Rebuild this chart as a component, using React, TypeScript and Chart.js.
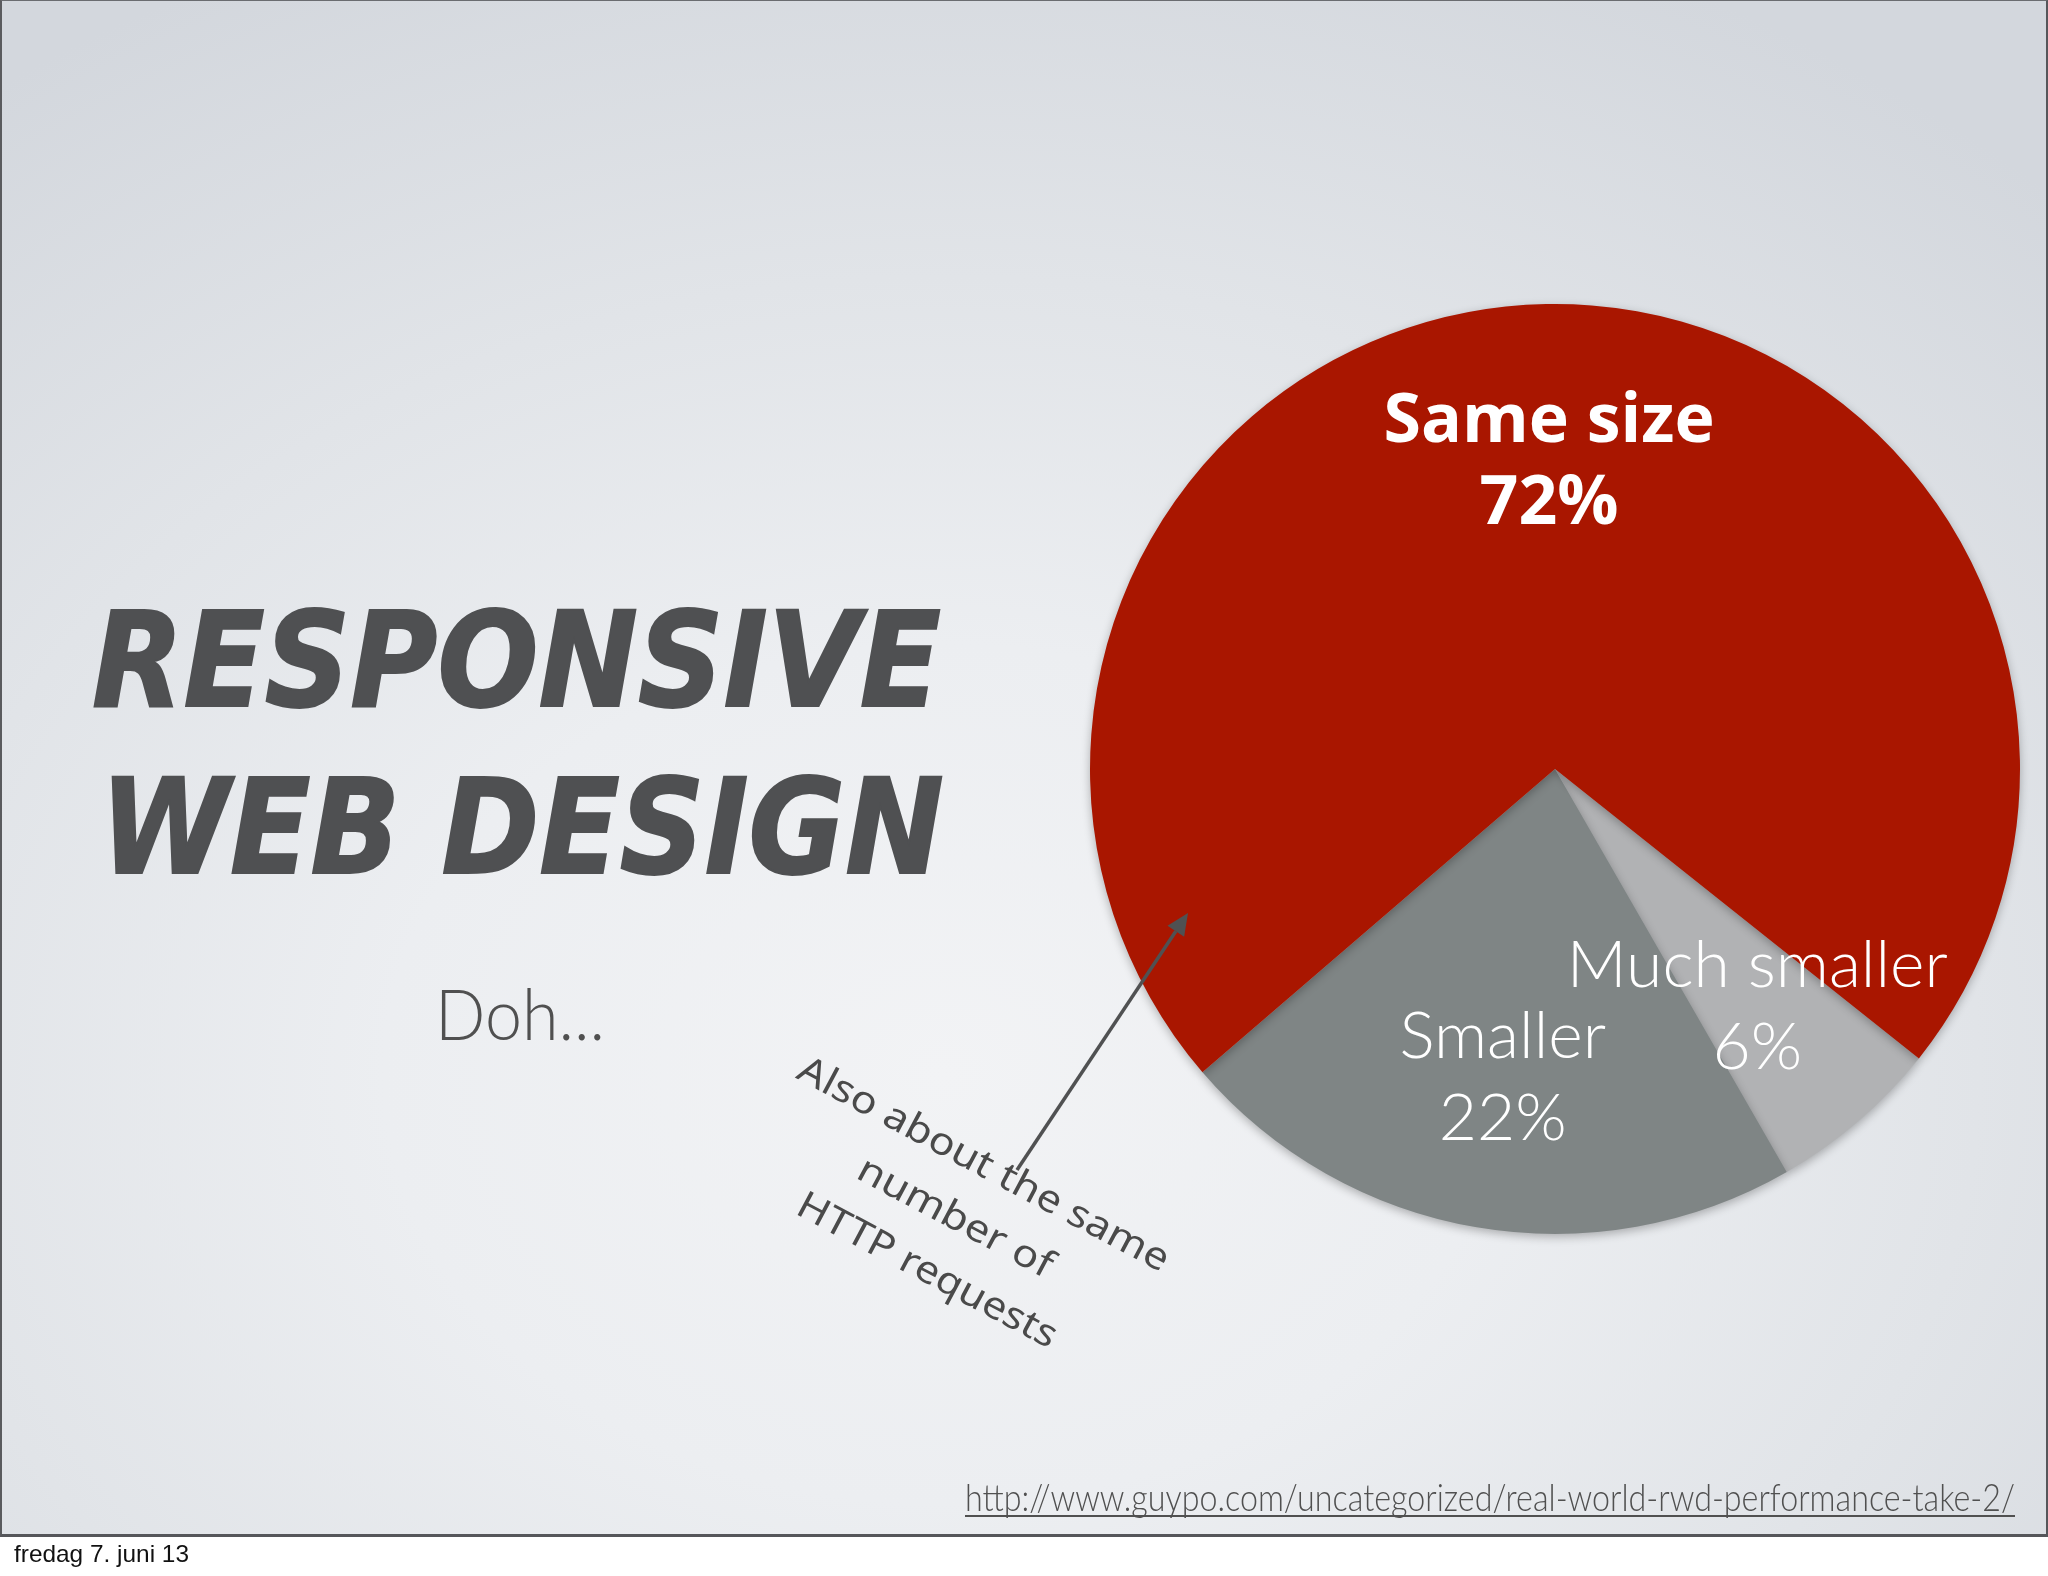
import React, { useEffect, useRef } from "react";
import { Chart, registerables } from "chart.js";

Chart.register(...registerables);

// ---- data ----
const categories = ["Much smaller", "Smaller", "Same size"];
const shares = [6, 22, 72];
const sliceColors = ["#b1b2b4", "#7f8585", "#a91600"];

const titleLines = ["RESPONSIVE", "WEB DESIGN"];
const subtitle = "Doh...";
const noteLines = ["Also about the same", "number of", "HTTP requests"];
const sourceUrl = "http://www.guypo.com/uncategorized/real-world-rwd-performance-take-2/";
const footerDate = "fredag 7. juni 13";

const labelPlugin = {
  id: "sliceLabels",
  beforeDatasetsDraw(chart: any) {
    const ctx = chart.ctx;
    ctx.save();
    ctx.shadowColor = "rgba(0,0,0,0.28)";
    ctx.shadowBlur = 10;
    ctx.shadowOffsetX = 0;
    ctx.shadowOffsetY = 3;
  },
  afterDatasetsDraw(chart: any) {
    const ctx = chart.ctx;
    ctx.restore();
    const meta = chart.getDatasetMeta(0);
    const values: number[] = chart.data.datasets[0].data;
    const maxIdx = values.indexOf(Math.max(...values));
    ctx.save();
    ctx.fillStyle = "#ffffff";
    ctx.textAlign = "center";
    ctx.textBaseline = "alphabetic";
    meta.data.forEach((arc: any, i: number) => {
      const p = arc.getProps(["x", "y", "startAngle", "endAngle", "outerRadius"], true);
      const mid = (p.startAngle + p.endAngle) / 2;
      const r = p.outerRadius * 0.667;
      const cx = p.x + Math.cos(mid) * r;
      const cy = p.y + Math.sin(mid) * r;
      if (i === maxIdx) {
        ctx.font = '700 68px "Open Sans"';
      } else {
        ctx.font = '300 66px Lato';
      }
      ctx.fillText(String(chart.data.labels[i]), cx, cy - 17);
      ctx.fillText(values[i] + "%", cx, cy + 65);
    });
    ctx.restore();
  },
};

function PieChart() {
  const ref = useRef<HTMLCanvasElement>(null);
  useEffect(() => {
    if (!ref.current) return;
    const chart = new Chart(ref.current, {
      type: "pie",
      data: {
        labels: categories,
        datasets: [
          {
            data: shares,
            backgroundColor: sliceColors,
            borderWidth: 0,
            hoverOffset: 0,
            offset: 0,
            clip: false,
          } as any,
        ],
      },
      options: {
        animation: false,
        responsive: false,
        devicePixelRatio: 1,
        rotation: 128.5,
        layout: { padding: 20 },
        events: [],
        plugins: {
          legend: { display: false },
          tooltip: { enabled: false },
        },
      },
      plugins: [labelPlugin],
    });
    return () => chart.destroy();
  }, []);
  return (
    <canvas
      ref={ref}
      width={970}
      height={970}
      style={{ position: "absolute", left: 1070, top: 284, width: 970, height: 970 }}
    />
  );
}

export default function App() {
  const ink = "#4f5052";
  const angle = 28;
  const rad = (angle * Math.PI) / 180;
  const n = { x: -Math.sin(rad), y: Math.cos(rad) };
  const noteStart = { x: 978, y: 1175 };
  const noteLens = [415, 216, 289];
  // arrow
  const ax1 = 1017, ay1 = 1170, ax2 = 1188, ay2 = 913;
  const aAng = Math.atan2(ay2 - ay1, ax2 - ax1);
  const headL = 22, headW = 10;
  const hx = ax2 - Math.cos(aAng) * headL;
  const hy = ay2 - Math.sin(aAng) * headL;
  const head = [
    [ax2, ay2],
    [hx + Math.sin(aAng) * headW, hy - Math.cos(aAng) * headW],
    [hx - Math.sin(aAng) * headW, hy + Math.cos(aAng) * headW],
  ]
    .map((q) => q.join(","))
    .join(" ");

  return (
    <div
      style={{
        position: "absolute",
        left: 0,
        top: 0,
        width: 2048,
        height: 1576,
        background: "#ffffff",
        overflow: "hidden",
      }}
    >
      <div
        style={{
          position: "absolute",
          left: 0,
          top: 0,
          width: 2048,
          height: 1537,
          boxSizing: "border-box",
          borderTop: "1px solid #6a6c70",
          borderLeft: "2px solid #5a5b5e",
          borderRight: "2px solid #55565a",
          borderBottom: "3px solid #55565a",
          background:
            "radial-gradient(ellipse 78% 80% at 46% 70%, #f2f3f5 0%, #eceef1 35%, #e1e4e8 65%, #d3d7dd 100%)",
        }}
      />
      <PieChart />
      <svg
        width={2048}
        height={1576}
        style={{ position: "absolute", left: 0, top: 0 }}
      >
        <text
          x={92}
          y={706}
          textLength={849}
          lengthAdjust="spacingAndGlyphs"
          fontFamily="DejaVu Sans"
          fontWeight="bold"
          fontStyle="italic"
          fontSize={132}
          fill={ink}
          stroke={ink}
          strokeWidth={2}
        >
          {titleLines[0]}
        </text>
        <text
          x={100}
          y={873}
          textLength={844}
          lengthAdjust="spacingAndGlyphs"
          fontFamily="DejaVu Sans"
          fontWeight="bold"
          fontStyle="italic"
          fontSize={132}
          fill={ink}
          stroke={ink}
          strokeWidth={2}
        >
          {titleLines[1]}
        </text>
        <text
          x={435}
          y={1040}
          textLength={170}
          lengthAdjust="spacingAndGlyphs"
          fontFamily="Lato"
          fontWeight={300}
          fontSize={70}
          fill="#505050"
        >
          {subtitle}
        </text>
        {noteLines.map((line, i) => (
          <text
            key={i}
            transform={`translate(${noteStart.x + n.x * 60 * i},${noteStart.y + n.y * 60 * i}) rotate(${angle})`}
            textAnchor="middle"
            textLength={noteLens[i]}
            lengthAdjust="spacingAndGlyphs"
            fontFamily="Noto Sans"
            fontSize={38}
            fill="#4a4a4a"
          >
            {line}
          </text>
        ))}
        <line
          x1={ax1}
          y1={ay1}
          x2={hx}
          y2={hy}
          stroke="#505152"
          strokeWidth={3.5}
        />
        <polygon points={head} fill="#505152" />
        <text
          x={965}
          y={1511}
          textLength={1050}
          lengthAdjust="spacingAndGlyphs"
          fontFamily="Lato"
          fontWeight={300}
          fontSize={38}
          fill="#505050"
        >
          {sourceUrl}
        </text>
        <line x1={965} y1={1516} x2={2015} y2={1516} stroke="#505050" strokeWidth={2} />
        <text
          x={14}
          y={1562}
          textLength={175}
          lengthAdjust="spacingAndGlyphs"
          fontFamily="Liberation Sans"
          fontSize={24}
          fill="#111111"
        >
          {footerDate}
        </text>
      </svg>
    </div>
  );
}
